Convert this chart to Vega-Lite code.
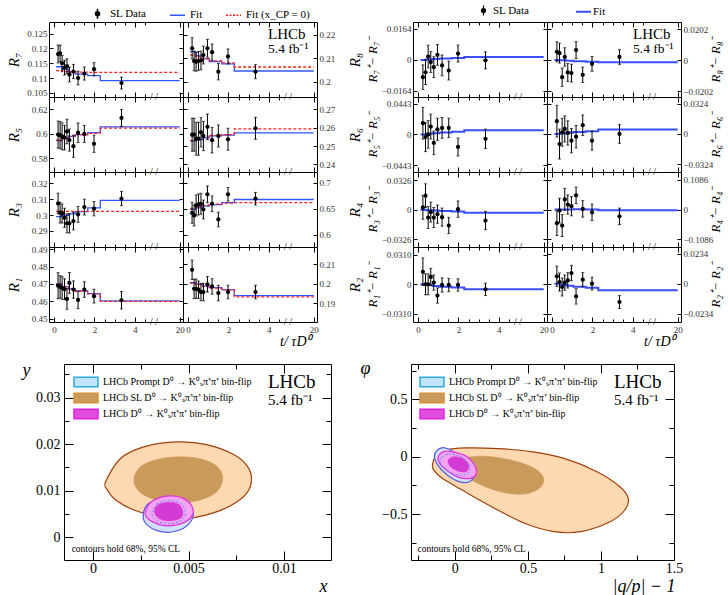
{
"$schema":"https://vega.github.io/schema/vega-lite/v6.json",
"padding":{"left":5,"top":5,"right":5,"bottom":5},
"background":"white",
"config":{
 "view":{"stroke":"black","strokeWidth":1},
 "font":"Liberation Serif",
 "axis":{"domain":false,"grid":false,"labelFont":"Liberation Serif","titleFont":"Liberation Serif","labelColor":"#333","labelFontSize":9,"tickColor":"black","tickSize":-4,"labelPadding":6,"labelFlush":false,"labelOverlap":false,"titleFontWeight":"normal","titleColor":"black"},
 "legend":{"labelFont":"Liberation Serif","labelColor":"black","padding":0}
},
"datasets":{
"ann":[
{"p":"L8","k":"big","t":3.96,"v":0.2181,"s":"LHCb"},{"p":"L8","k":"mid","t":3.96,"v":0.2122,"s":"5.4 fb⁻¹"},
{"p":"A8","k":"big","t":4.01,"v":0.0137,"s":"LHCb"},{"p":"A8","k":"mid","t":4.01,"v":0.0046,"s":"5.4 fb⁻¹"},
{"p":"L7","k":"brk","t":4.95,"v":0.1036,"s":"/ /"},{"p":"L8","k":"brk","t":4.95,"v":0.1934,"s":"/ /"},{"p":"L5","k":"brk","t":4.95,"v":0.569,"s":"/ /"},{"p":"L6","k":"brk","t":4.95,"v":0.2358,"s":"/ /"},
{"p":"L3","k":"brk","t":4.95,"v":0.2799,"s":"/ /"},{"p":"L4","k":"brk","t":4.95,"v":0.577,"s":"/ /"},{"p":"L1","k":"brk","t":4.95,"v":0.4481,"s":"/ /"},{"p":"L2","k":"brk","t":4.95,"v":0.1802,"s":"/ /"},
{"p":"A7","k":"brk","t":4.95,"v":-0.0196,"s":"/ /"},{"p":"A8","k":"brk","t":4.95,"v":-0.0241,"s":"/ /"},{"p":"A5","k":"brk","t":4.95,"v":-0.0544,"s":"/ /"},{"p":"A6","k":"brk","t":4.95,"v":-0.0407,"s":"/ /"},
{"p":"A3","k":"brk","t":4.95,"v":-0.0409,"s":"/ /"},{"p":"A4","k":"brk","t":4.95,"v":-0.1363,"s":"/ /"},{"p":"A1","k":"brk","t":4.95,"v":-0.0396,"s":"/ /"},{"p":"A2","k":"brk","t":4.95,"v":-0.0299,"s":"/ /"}
],
"cann":[
{"p":"CL","k":"big","x":0.00916,"y":0.03209,"s":"LHCb"},{"p":"CL","k":"mid","x":0.00916,"y":0.02844,"s":"5.4 fb⁻¹"},{"p":"CL","k":"small","x":-0.00112,"y":-0.00311,"s":"contours hold 68%, 95% CL"},
{"p":"CR","k":"big","x":1.089,"y":0.599,"s":"LHCb"},{"p":"CR","k":"mid","x":1.089,"y":0.45,"s":"5.4 fb⁻¹"},{"p":"CR","k":"small","x":-0.256,"y":-0.829,"s":"contours hold 68%, 95% CL"}
],
"pts":[
{"p":"L7","t":0.2,"v":0.1181,"e":0.003},{"p":"L7","t":0.3,"v":0.1183,"e":0.0028},{"p":"L7","t":0.4,"v":0.115,"e":0.0026},{"p":"L7","t":0.52,"v":0.1135,"e":0.0025},{"p":"L7","t":0.64,"v":0.114,"e":0.0025},{"p":"L7","t":0.76,"v":0.1112,"e":0.0025},{"p":"L7","t":0.96,"v":0.1122,"e":0.0024},{"p":"L7","t":1.19,"v":0.11,"e":0.0023},{"p":"L7","t":1.5,"v":0.1115,"e":0.0022},{"p":"L7","t":1.98,"v":0.113,"e":0.0022},{"p":"L7","t":3.34,"v":0.1083,"e":0.002},
{"p":"L8","t":0.2,"v":0.2142,"e":0.0045},{"p":"L8","t":0.3,"v":0.2088,"e":0.0042},{"p":"L8","t":0.4,"v":0.2084,"e":0.004},{"p":"L8","t":0.52,"v":0.2088,"e":0.004},{"p":"L8","t":0.64,"v":0.209,"e":0.004},{"p":"L8","t":0.76,"v":0.2113,"e":0.0038},{"p":"L8","t":0.96,"v":0.2142,"e":0.0038},{"p":"L8","t":1.19,"v":0.2125,"e":0.0035},{"p":"L8","t":1.5,"v":0.2042,"e":0.0035},{"p":"L8","t":1.98,"v":0.2107,"e":0.0032},{"p":"L8","t":3.34,"v":0.2042,"e":0.003},
{"p":"L5","t":0.2,"v":0.5995,"e":0.011},{"p":"L5","t":0.3,"v":0.599,"e":0.011},{"p":"L5","t":0.4,"v":0.598,"e":0.011},{"p":"L5","t":0.52,"v":0.597,"e":0.01},{"p":"L5","t":0.64,"v":0.602,"e":0.01},{"p":"L5","t":0.76,"v":0.595,"e":0.009},{"p":"L5","t":0.96,"v":0.59,"e":0.009},{"p":"L5","t":1.19,"v":0.601,"e":0.008},{"p":"L5","t":1.5,"v":0.6,"e":0.007},{"p":"L5","t":1.98,"v":0.592,"e":0.007},{"p":"L5","t":3.34,"v":0.613,"e":0.007},
{"p":"L6","t":0.2,"v":0.2562,"e":0.009},{"p":"L6","t":0.3,"v":0.2562,"e":0.009},{"p":"L6","t":0.4,"v":0.254,"e":0.009},{"p":"L6","t":0.52,"v":0.254,"e":0.009},{"p":"L6","t":0.64,"v":0.2575,"e":0.008},{"p":"L6","t":0.76,"v":0.2555,"e":0.008},{"p":"L6","t":0.96,"v":0.2605,"e":0.007},{"p":"L6","t":1.19,"v":0.2532,"e":0.007},{"p":"L6","t":1.5,"v":0.2555,"e":0.006},{"p":"L6","t":1.98,"v":0.2537,"e":0.006},{"p":"L6","t":3.34,"v":0.2597,"e":0.006},
{"p":"L3","t":0.2,"v":0.3073,"e":0.0065},{"p":"L3","t":0.3,"v":0.3015,"e":0.0065},{"p":"L3","t":0.4,"v":0.301,"e":0.006},{"p":"L3","t":0.52,"v":0.2983,"e":0.006},{"p":"L3","t":0.64,"v":0.2948,"e":0.006},{"p":"L3","t":0.76,"v":0.2948,"e":0.006},{"p":"L3","t":0.96,"v":0.2962,"e":0.0055},{"p":"L3","t":1.19,"v":0.3004,"e":0.005},{"p":"L3","t":1.5,"v":0.305,"e":0.005},{"p":"L3","t":1.98,"v":0.304,"e":0.0045},{"p":"L3","t":3.34,"v":0.3104,"e":0.0045},
{"p":"L4","t":0.2,"v":0.6424,"e":0.02},{"p":"L4","t":0.3,"v":0.6373,"e":0.02},{"p":"L4","t":0.4,"v":0.6564,"e":0.02},{"p":"L4","t":0.52,"v":0.6583,"e":0.02},{"p":"L4","t":0.64,"v":0.6596,"e":0.02},{"p":"L4","t":0.76,"v":0.6487,"e":0.018},{"p":"L4","t":0.96,"v":0.6777,"e":0.016},{"p":"L4","t":1.19,"v":0.6596,"e":0.015},{"p":"L4","t":1.5,"v":0.6296,"e":0.014},{"p":"L4","t":1.98,"v":0.6777,"e":0.013},{"p":"L4","t":3.34,"v":0.6694,"e":0.012},
{"p":"L1","t":0.2,"v":0.469,"e":0.0075},{"p":"L1","t":0.3,"v":0.4683,"e":0.0065},{"p":"L1","t":0.4,"v":0.4677,"e":0.0065},{"p":"L1","t":0.52,"v":0.467,"e":0.006},{"p":"L1","t":0.64,"v":0.4614,"e":0.006},{"p":"L1","t":0.76,"v":0.4706,"e":0.006},{"p":"L1","t":0.96,"v":0.4668,"e":0.005},{"p":"L1","t":1.19,"v":0.4608,"e":0.005},{"p":"L1","t":1.5,"v":0.4668,"e":0.0045},{"p":"L1","t":1.98,"v":0.463,"e":0.004},{"p":"L1","t":3.34,"v":0.4606,"e":0.005},
{"p":"L2","t":0.2,"v":0.2072,"e":0.005},{"p":"L2","t":0.3,"v":0.1974,"e":0.005},{"p":"L2","t":0.4,"v":0.1974,"e":0.005},{"p":"L2","t":0.52,"v":0.1969,"e":0.0045},{"p":"L2","t":0.64,"v":0.1957,"e":0.0045},{"p":"L2","t":0.76,"v":0.1957,"e":0.0045},{"p":"L2","t":0.96,"v":0.1997,"e":0.004},{"p":"L2","t":1.19,"v":0.1986,"e":0.004},{"p":"L2","t":1.5,"v":0.1952,"e":0.004},{"p":"L2","t":1.98,"v":0.1957,"e":0.0035},{"p":"L2","t":3.34,"v":0.1957,"e":0.0035},
{"p":"A7","t":0.24,"v":-0.0091,"e":0.0065},{"p":"A7","t":0.37,"v":-0.0065,"e":0.0065},{"p":"A7","t":0.5,"v":0.0018,"e":0.006},{"p":"A7","t":0.63,"v":-0.0011,"e":0.0055},{"p":"A7","t":0.78,"v":-0.0038,"e":0.0055},{"p":"A7","t":0.96,"v":0.0027,"e":0.0055},{"p":"A7","t":1.19,"v":-0.0029,"e":0.0055},{"p":"A7","t":1.52,"v":-0.0056,"e":0.005},{"p":"A7","t":1.98,"v":0.0034,"e":0.0045},{"p":"A7","t":3.34,"v":-0.0002,"e":0.0045},
{"p":"A8","t":0.24,"v":0.0054,"e":0.0065},{"p":"A8","t":0.37,"v":0.0045,"e":0.0065},{"p":"A8","t":0.5,"v":-0.0112,"e":0.006},{"p":"A8","t":0.63,"v":0.002,"e":0.006},{"p":"A8","t":0.78,"v":-0.0081,"e":0.0058},{"p":"A8","t":0.96,"v":-0.0085,"e":0.0058},{"p":"A8","t":1.19,"v":0.0065,"e":0.0055},{"p":"A8","t":1.52,"v":-0.0096,"e":0.005},{"p":"A8","t":1.98,"v":-0.0025,"e":0.0048},{"p":"A8","t":3.34,"v":0.002,"e":0.0048},
{"p":"A5","t":0.24,"v":0.0162,"e":0.023},{"p":"A5","t":0.37,"v":-0.0039,"e":0.021},{"p":"A5","t":0.5,"v":0,"e":0.02},{"p":"A5","t":0.63,"v":0.0113,"e":0.018},{"p":"A5","t":0.78,"v":-0.0123,"e":0.017},{"p":"A5","t":0.96,"v":0.0074,"e":0.016},{"p":"A5","t":1.19,"v":0.0094,"e":0.015},{"p":"A5","t":1.52,"v":0.0094,"e":0.014},{"p":"A5","t":1.98,"v":-0.0182,"e":0.013},{"p":"A5","t":3.34,"v":-0.0064,"e":0.014},
{"p":"A6","t":0.24,"v":0.0137,"e":0.017},{"p":"A6","t":0.37,"v":-0.0108,"e":0.016},{"p":"A6","t":0.5,"v":0.0018,"e":0.015},{"p":"A6","t":0.63,"v":0.0054,"e":0.014},{"p":"A6","t":0.78,"v":0.0011,"e":0.013},{"p":"A6","t":0.96,"v":-0.0072,"e":0.013},{"p":"A6","t":1.19,"v":-0.0029,"e":0.012},{"p":"A6","t":1.52,"v":0.0094,"e":0.011},{"p":"A6","t":1.98,"v":-0.0072,"e":0.01},{"p":"A6","t":3.34,"v":0,"e":0.01},
{"p":"A3","t":0.24,"v":0.0026,"e":0.013},{"p":"A3","t":0.37,"v":0.0155,"e":0.013},{"p":"A3","t":0.5,"v":-0.0085,"e":0.012},{"p":"A3","t":0.63,"v":-0.0026,"e":0.011},{"p":"A3","t":0.78,"v":-0.0085,"e":0.011},{"p":"A3","t":0.96,"v":-0.0048,"e":0.01},{"p":"A3","t":1.19,"v":-0.0081,"e":0.01},{"p":"A3","t":1.52,"v":-0.0173,"e":0.009},{"p":"A3","t":1.98,"v":0.0007,"e":0.009},{"p":"A3","t":3.34,"v":-0.0118,"e":0.01},
{"p":"A4","t":0.24,"v":-0.0494,"e":0.045},{"p":"A4","t":0.37,"v":-0.0037,"e":0.045},{"p":"A4","t":0.5,"v":-0.058,"e":0.04},{"p":"A4","t":0.63,"v":0.037,"e":0.04},{"p":"A4","t":0.78,"v":0.0185,"e":0.035},{"p":"A4","t":0.96,"v":0.0123,"e":0.035},{"p":"A4","t":1.19,"v":0.0518,"e":0.03},{"p":"A4","t":1.52,"v":0.0025,"e":0.03},{"p":"A4","t":1.98,"v":-0.0099,"e":0.03},{"p":"A4","t":3.34,"v":-0.0247,"e":0.03},
{"p":"A1","t":0.24,"v":0.0132,"e":0.0145},{"p":"A1","t":0.37,"v":0,"e":0.011},{"p":"A1","t":0.5,"v":0,"e":0.011},{"p":"A1","t":0.63,"v":0.0078,"e":0.009},{"p":"A1","t":0.78,"v":0.0018,"e":0.008},{"p":"A1","t":0.96,"v":-0.0118,"e":0.008},{"p":"A1","t":1.19,"v":-0.0007,"e":0.0075},{"p":"A1","t":1.52,"v":-0.0007,"e":0.007},{"p":"A1","t":1.98,"v":-0.0007,"e":0.0065},{"p":"A1","t":3.34,"v":-0.0053,"e":0.0065},
{"p":"A2","t":0.24,"v":0.0057,"e":0.008},{"p":"A2","t":0.37,"v":0.0013,"e":0.007},{"p":"A2","t":0.5,"v":-0.0026,"e":0.007},{"p":"A2","t":0.63,"v":0.0008,"e":0.006},{"p":"A2","t":0.78,"v":0.0026,"e":0.006},{"p":"A2","t":0.96,"v":0.0083,"e":0.006},{"p":"A2","t":1.19,"v":-0.0099,"e":0.006},{"p":"A2","t":1.52,"v":0.0031,"e":0.0055},{"p":"A2","t":1.98,"v":0,"e":0.005},{"p":"A2","t":3.34,"v":-0.0143,"e":0.005}
],
"fit":[
{"p":"L7","k":"Fit","t":0.1,"v":0.1138},{"p":"L7","k":"Fit","t":0.38,"v":0.113},{"p":"L7","k":"Fit","t":0.72,"v":0.1121},{"p":"L7","k":"Fit","t":1.05,"v":0.1113},{"p":"L7","k":"Fit","t":1.67,"v":0.1108},{"p":"L7","k":"Fit","t":2.29,"v":0.1091},{"p":"L7","k":"Fit","t":20,"v":0.1091},
{"p":"L7","k":"Fit (x_CP = 0)","t":0.1,"v":0.1125},{"p":"L7","k":"Fit (x_CP = 0)","t":0.38,"v":0.1122},{"p":"L7","k":"Fit (x_CP = 0)","t":0.72,"v":0.1121},{"p":"L7","k":"Fit (x_CP = 0)","t":1.05,"v":0.112},{"p":"L7","k":"Fit (x_CP = 0)","t":1.67,"v":0.1119},{"p":"L7","k":"Fit (x_CP = 0)","t":2.29,"v":0.1119},{"p":"L7","k":"Fit (x_CP = 0)","t":20,"v":0.1119},
{"p":"L8","k":"Fit","t":0.1,"v":0.2128},{"p":"L8","k":"Fit","t":0.38,"v":0.211},{"p":"L8","k":"Fit","t":0.72,"v":0.2098},{"p":"L8","k":"Fit","t":1.05,"v":0.2085},{"p":"L8","k":"Fit","t":1.67,"v":0.2075},{"p":"L8","k":"Fit","t":2.29,"v":0.2045},{"p":"L8","k":"Fit","t":20,"v":0.2045},
{"p":"L8","k":"Fit (x_CP = 0)","t":0.1,"v":0.2113},{"p":"L8","k":"Fit (x_CP = 0)","t":0.38,"v":0.2105},{"p":"L8","k":"Fit (x_CP = 0)","t":0.72,"v":0.2097},{"p":"L8","k":"Fit (x_CP = 0)","t":1.05,"v":0.2088},{"p":"L8","k":"Fit (x_CP = 0)","t":1.67,"v":0.208},{"p":"L8","k":"Fit (x_CP = 0)","t":2.29,"v":0.2062},{"p":"L8","k":"Fit (x_CP = 0)","t":20,"v":0.2062},
{"p":"L5","k":"Fit","t":0.1,"v":0.5945},{"p":"L5","k":"Fit","t":0.38,"v":0.5965},{"p":"L5","k":"Fit","t":0.72,"v":0.598},{"p":"L5","k":"Fit","t":1.05,"v":0.5995},{"p":"L5","k":"Fit","t":1.67,"v":0.601},{"p":"L5","k":"Fit","t":2.29,"v":0.6058},{"p":"L5","k":"Fit","t":20,"v":0.6058},
{"p":"L5","k":"Fit (x_CP = 0)","t":0.1,"v":0.595},{"p":"L5","k":"Fit (x_CP = 0)","t":0.38,"v":0.5968},{"p":"L5","k":"Fit (x_CP = 0)","t":0.72,"v":0.5982},{"p":"L5","k":"Fit (x_CP = 0)","t":1.05,"v":0.5995},{"p":"L5","k":"Fit (x_CP = 0)","t":1.67,"v":0.6005},{"p":"L5","k":"Fit (x_CP = 0)","t":2.29,"v":0.6048},{"p":"L5","k":"Fit (x_CP = 0)","t":20,"v":0.6048},
{"p":"L6","k":"Fit","t":0.1,"v":0.2528},{"p":"L6","k":"Fit","t":0.38,"v":0.2535},{"p":"L6","k":"Fit","t":0.72,"v":0.2545},{"p":"L6","k":"Fit","t":1.05,"v":0.2555},{"p":"L6","k":"Fit","t":1.67,"v":0.256},{"p":"L6","k":"Fit","t":2.29,"v":0.2572},{"p":"L6","k":"Fit","t":20,"v":0.2572},
{"p":"L6","k":"Fit (x_CP = 0)","t":0.1,"v":0.253},{"p":"L6","k":"Fit (x_CP = 0)","t":0.38,"v":0.2538},{"p":"L6","k":"Fit (x_CP = 0)","t":0.72,"v":0.2548},{"p":"L6","k":"Fit (x_CP = 0)","t":1.05,"v":0.2558},{"p":"L6","k":"Fit (x_CP = 0)","t":1.67,"v":0.2562},{"p":"L6","k":"Fit (x_CP = 0)","t":2.29,"v":0.2594},{"p":"L6","k":"Fit (x_CP = 0)","t":20,"v":0.2594},
{"p":"L3","k":"Fit","t":0.1,"v":0.299},{"p":"L3","k":"Fit","t":0.38,"v":0.2998},{"p":"L3","k":"Fit","t":0.72,"v":0.3008},{"p":"L3","k":"Fit","t":1.05,"v":0.3022},{"p":"L3","k":"Fit","t":1.67,"v":0.3045},{"p":"L3","k":"Fit","t":2.29,"v":0.3092},{"p":"L3","k":"Fit","t":20,"v":0.3092},
{"p":"L3","k":"Fit (x_CP = 0)","t":0.1,"v":0.3023},{"p":"L3","k":"Fit (x_CP = 0)","t":0.38,"v":0.3023},{"p":"L3","k":"Fit (x_CP = 0)","t":0.72,"v":0.3023},{"p":"L3","k":"Fit (x_CP = 0)","t":1.05,"v":0.3023},{"p":"L3","k":"Fit (x_CP = 0)","t":1.67,"v":0.3023},{"p":"L3","k":"Fit (x_CP = 0)","t":2.29,"v":0.3023},{"p":"L3","k":"Fit (x_CP = 0)","t":20,"v":0.3023},
{"p":"L4","k":"Fit","t":0.1,"v":0.649},{"p":"L4","k":"Fit","t":0.38,"v":0.652},{"p":"L4","k":"Fit","t":0.72,"v":0.655},{"p":"L4","k":"Fit","t":1.05,"v":0.658},{"p":"L4","k":"Fit","t":1.67,"v":0.662},{"p":"L4","k":"Fit","t":2.29,"v":0.6678},{"p":"L4","k":"Fit","t":20,"v":0.6678},
{"p":"L4","k":"Fit (x_CP = 0)","t":0.1,"v":0.651},{"p":"L4","k":"Fit (x_CP = 0)","t":0.38,"v":0.654},{"p":"L4","k":"Fit (x_CP = 0)","t":0.72,"v":0.6565},{"p":"L4","k":"Fit (x_CP = 0)","t":1.05,"v":0.659},{"p":"L4","k":"Fit (x_CP = 0)","t":1.67,"v":0.661},{"p":"L4","k":"Fit (x_CP = 0)","t":2.29,"v":0.662},{"p":"L4","k":"Fit (x_CP = 0)","t":20,"v":0.662},
{"p":"L1","k":"Fit","t":0.1,"v":0.47},{"p":"L1","k":"Fit","t":0.38,"v":0.4685},{"p":"L1","k":"Fit","t":0.72,"v":0.4672},{"p":"L1","k":"Fit","t":1.05,"v":0.466},{"p":"L1","k":"Fit","t":1.67,"v":0.4645},{"p":"L1","k":"Fit","t":2.29,"v":0.4603},{"p":"L1","k":"Fit","t":20,"v":0.4603},
{"p":"L1","k":"Fit (x_CP = 0)","t":0.1,"v":0.4698},{"p":"L1","k":"Fit (x_CP = 0)","t":0.38,"v":0.4683},{"p":"L1","k":"Fit (x_CP = 0)","t":0.72,"v":0.467},{"p":"L1","k":"Fit (x_CP = 0)","t":1.05,"v":0.4658},{"p":"L1","k":"Fit (x_CP = 0)","t":1.67,"v":0.4643},{"p":"L1","k":"Fit (x_CP = 0)","t":2.29,"v":0.46},{"p":"L1","k":"Fit (x_CP = 0)","t":20,"v":0.46},
{"p":"L2","k":"Fit","t":0.1,"v":0.2005},{"p":"L2","k":"Fit","t":0.38,"v":0.1998},{"p":"L2","k":"Fit","t":0.72,"v":0.1988},{"p":"L2","k":"Fit","t":1.05,"v":0.198},{"p":"L2","k":"Fit","t":1.67,"v":0.197},{"p":"L2","k":"Fit","t":2.29,"v":0.1938},{"p":"L2","k":"Fit","t":20,"v":0.1938},
{"p":"L2","k":"Fit (x_CP = 0)","t":0.1,"v":0.2003},{"p":"L2","k":"Fit (x_CP = 0)","t":0.38,"v":0.1995},{"p":"L2","k":"Fit (x_CP = 0)","t":0.72,"v":0.1985},{"p":"L2","k":"Fit (x_CP = 0)","t":1.05,"v":0.1977},{"p":"L2","k":"Fit (x_CP = 0)","t":1.67,"v":0.1968},{"p":"L2","k":"Fit (x_CP = 0)","t":2.29,"v":0.1932},{"p":"L2","k":"Fit (x_CP = 0)","t":20,"v":0.1932},
{"p":"A7","k":"Fit","t":0.12,"v":0},{"p":"A7","k":"Fit","t":0.38,"v":0.0002},{"p":"A7","k":"Fit","t":0.72,"v":0.0005},{"p":"A7","k":"Fit","t":1.05,"v":0.0008},{"p":"A7","k":"Fit","t":1.67,"v":0.0011},{"p":"A7","k":"Fit","t":2.29,"v":0.0016},{"p":"A7","k":"Fit","t":20,"v":0.0016},
{"p":"A8","k":"Fit","t":0.12,"v":0},{"p":"A8","k":"Fit","t":0.38,"v":-0.0002},{"p":"A8","k":"Fit","t":0.72,"v":-0.0005},{"p":"A8","k":"Fit","t":1.05,"v":-0.0008},{"p":"A8","k":"Fit","t":1.67,"v":-0.0011},{"p":"A8","k":"Fit","t":2.29,"v":-0.0014},{"p":"A8","k":"Fit","t":20,"v":-0.0014},
{"p":"A5","k":"Fit","t":0.12,"v":0},{"p":"A5","k":"Fit","t":0.38,"v":0.0008},{"p":"A5","k":"Fit","t":0.72,"v":0.0018},{"p":"A5","k":"Fit","t":1.05,"v":0.0028},{"p":"A5","k":"Fit","t":1.67,"v":0.0038},{"p":"A5","k":"Fit","t":2.29,"v":0.0059},{"p":"A5","k":"Fit","t":20,"v":0.0059},
{"p":"A6","k":"Fit","t":0.12,"v":0},{"p":"A6","k":"Fit","t":0.38,"v":0.0006},{"p":"A6","k":"Fit","t":0.72,"v":0.0013},{"p":"A6","k":"Fit","t":1.05,"v":0.002},{"p":"A6","k":"Fit","t":1.67,"v":0.0028},{"p":"A6","k":"Fit","t":2.29,"v":0.0047},{"p":"A6","k":"Fit","t":20,"v":0.0047},
{"p":"A3","k":"Fit","t":0.12,"v":0},{"p":"A3","k":"Fit","t":0.38,"v":-0.0004},{"p":"A3","k":"Fit","t":0.72,"v":-0.0009},{"p":"A3","k":"Fit","t":1.05,"v":-0.0014},{"p":"A3","k":"Fit","t":1.67,"v":-0.0019},{"p":"A3","k":"Fit","t":2.29,"v":-0.0033},{"p":"A3","k":"Fit","t":20,"v":-0.0033},
{"p":"A4","k":"Fit","t":0.12,"v":0},{"p":"A4","k":"Fit","t":0.38,"v":0.0003},{"p":"A4","k":"Fit","t":0.72,"v":0.0006},{"p":"A4","k":"Fit","t":1.05,"v":0.0008},{"p":"A4","k":"Fit","t":1.67,"v":0.0005},{"p":"A4","k":"Fit","t":2.29,"v":-0.002},{"p":"A4","k":"Fit","t":20,"v":-0.002},
{"p":"A1","k":"Fit","t":0.12,"v":0},{"p":"A1","k":"Fit","t":0.38,"v":-0.0008},{"p":"A1","k":"Fit","t":0.72,"v":-0.0017},{"p":"A1","k":"Fit","t":1.05,"v":-0.0025},{"p":"A1","k":"Fit","t":1.67,"v":-0.0033},{"p":"A1","k":"Fit","t":2.29,"v":-0.0053},{"p":"A1","k":"Fit","t":20,"v":-0.0053},
{"p":"A2","k":"Fit","t":0.12,"v":0},{"p":"A2","k":"Fit","t":0.38,"v":-0.0008},{"p":"A2","k":"Fit","t":0.72,"v":-0.0016},{"p":"A2","k":"Fit","t":1.05,"v":-0.0024},{"p":"A2","k":"Fit","t":1.67,"v":-0.0032},{"p":"A2","k":"Fit","t":2.29,"v":-0.0052},{"p":"A2","k":"Fit","t":20,"v":-0.0052}
],
"cxy":[
{"c":"S95","x":0.00066,"y":0.01193},{"c":"S95","x":0.00144,"y":0.01693},{"c":"S95","x":0.00266,"y":0.01943},{"c":"S95","x":0.00439,"y":0.0205},{"c":"S95","x":0.00595,"y":0.01993},{"c":"S95","x":0.00734,"y":0.01786},{"c":"S95","x":0.00804,"y":0.0155},{"c":"S95","x":0.0083,"y":0.01264},{"c":"S95","x":0.00804,"y":0.00943},{"c":"S95","x":0.00717,"y":0.00671},{"c":"S95","x":0.00595,"y":0.00479},{"c":"S95","x":0.00491,"y":0.00407},{"c":"S95","x":0.00352,"y":0.00443},{"c":"S95","x":0.00214,"y":0.00586},{"c":"S95","x":0.00118,"y":0.008},{"c":"S95","x":0.00075,"y":0.01014},
{"c":"S68","x":0.00214,"y":0.01229},{"c":"S68","x":0.00248,"y":0.01514},{"c":"S68","x":0.00335,"y":0.01671},{"c":"S68","x":0.00448,"y":0.01729},{"c":"S68","x":0.00561,"y":0.01686},{"c":"S68","x":0.00648,"y":0.01529},{"c":"S68","x":0.00679,"y":0.01264},{"c":"S68","x":0.00648,"y":0.00979},{"c":"S68","x":0.00561,"y":0.008},{"c":"S68","x":0.00457,"y":0.00743},{"c":"S68","x":0.00335,"y":0.008},{"c":"S68","x":0.00248,"y":0.00957},
{"c":"P95","x":0.00262,"y":0.00443},{"c":"P95","x":0.00283,"y":0.00264},{"c":"P95","x":0.00335,"y":0.00143},{"c":"P95","x":0.00405,"y":0.00107},{"c":"P95","x":0.00474,"y":0.00193},{"c":"P95","x":0.00517,"y":0.00371},{"c":"P95","x":0.00523,"y":0.0055},{"c":"P95","x":0.00491,"y":0.00729},{"c":"P95","x":0.00422,"y":0.00821},{"c":"P95","x":0.00344,"y":0.00814},{"c":"P95","x":0.00283,"y":0.00693},
{"c":"P68","x":0.00309,"y":0.00514},{"c":"P68","x":0.00335,"y":0.00714},{"c":"P68","x":0.00396,"y":0.00786},{"c":"P68","x":0.00457,"y":0.00729},{"c":"P68","x":0.00483,"y":0.0055},{"c":"P68","x":0.00465,"y":0.00371},{"c":"P68","x":0.00396,"y":0.00286},{"c":"P68","x":0.00332,"y":0.00357},
{"c":"C95","x":0.00274,"y":0.0055},{"c":"C95","x":0.003,"y":0.00743},{"c":"C95","x":0.00352,"y":0.00857},{"c":"C95","x":0.00422,"y":0.00886},{"c":"C95","x":0.00483,"y":0.00814},{"c":"C95","x":0.00517,"y":0.00671},{"c":"C95","x":0.00523,"y":0.005},{"c":"C95","x":0.00495,"y":0.00357},{"c":"C95","x":0.00439,"y":0.00264},{"c":"C95","x":0.0037,"y":0.0025},{"c":"C95","x":0.00309,"y":0.00336},{"c":"C95","x":0.00278,"y":0.00443},
{"c":"C68","x":0.00321,"y":0.0055},{"c":"C68","x":0.00339,"y":0.00693},{"c":"C68","x":0.00396,"y":0.0075},{"c":"C68","x":0.00448,"y":0.00707},{"c":"C68","x":0.0047,"y":0.0055},{"c":"C68","x":0.00457,"y":0.00407},{"c":"C68","x":0.00396,"y":0.0035},{"c":"C68","x":0.00344,"y":0.00407}
],
"cqp":[
{"c":"S95","x":-0.153,"y":-0.073},{"c":"S95","x":-0.126,"y":0.015},{"c":"S95","x":-0.063,"y":0.058},{"c":"S95","x":0.072,"y":0.076},{"c":"S95","x":0.297,"y":0.07},{"c":"S95","x":0.522,"y":0.044},{"c":"S95","x":0.748,"y":-0.015},{"c":"S95","x":0.973,"y":-0.131},{"c":"S95","x":1.13,"y":-0.262},{"c":"S95","x":1.187,"y":-0.363},{"c":"S95","x":1.164,"y":-0.465},{"c":"S95","x":1.063,"y":-0.567},{"c":"S95","x":0.86,"y":-0.654},{"c":"S95","x":0.68,"y":-0.654},{"c":"S95","x":0.477,"y":-0.581},{"c":"S95","x":0.252,"y":-0.436},{"c":"S95","x":0.05,"y":-0.291},{"c":"S95","x":-0.086,"y":-0.189},{"c":"S95","x":-0.142,"y":-0.122},
{"c":"S68","x":0.038,"y":-0.029},{"c":"S68","x":0.117,"y":0},{"c":"S68","x":0.252,"y":0},{"c":"S68","x":0.41,"y":-0.038},{"c":"S68","x":0.545,"y":-0.102},{"c":"S68","x":0.608,"y":-0.189},{"c":"S68","x":0.579,"y":-0.276},{"c":"S68","x":0.477,"y":-0.326},{"c":"S68","x":0.342,"y":-0.314},{"c":"S68","x":0.207,"y":-0.262},{"c":"S68","x":0.095,"y":-0.189},{"c":"S68","x":0.038,"y":-0.116},
{"c":"P95","x":-0.14,"y":0.006},{"c":"P95","x":-0.119,"y":0.058},{"c":"P95","x":-0.081,"y":0.078},{"c":"P95","x":-0.041,"y":0.064},{"c":"P95","x":0.027,"y":0.015},{"c":"P95","x":0.106,"y":-0.058},{"c":"P95","x":0.135,"y":-0.151},{"c":"P95","x":0.099,"y":-0.218},{"c":"P95","x":0.027,"y":-0.218},{"c":"P95","x":-0.052,"y":-0.16},{"c":"P95","x":-0.113,"y":-0.081},
{"c":"P68","x":-0.097,"y":-0.015},{"c":"P68","x":-0.041,"y":0.023},{"c":"P68","x":0.038,"y":0},{"c":"P68","x":0.095,"y":-0.058},{"c":"P68","x":0.099,"y":-0.131},{"c":"P68","x":0.038,"y":-0.16},{"c":"P68","x":-0.041,"y":-0.131},{"c":"P68","x":-0.09,"y":-0.073},
{"c":"C95","x":-0.113,"y":0},{"c":"C95","x":-0.074,"y":0.044},{"c":"C95","x":0.005,"y":0.038},{"c":"C95","x":0.083,"y":0},{"c":"C95","x":0.135,"y":-0.073},{"c":"C95","x":0.146,"y":-0.151},{"c":"C95","x":0.106,"y":-0.189},{"c":"C95","x":0.027,"y":-0.18},{"c":"C95","x":-0.052,"y":-0.122},{"c":"C95","x":-0.104,"y":-0.058},
{"c":"C68","x":-0.045,"y":-0.029},{"c":"C68","x":-0.007,"y":0},{"c":"C68","x":0.061,"y":-0.02},{"c":"C68","x":0.095,"y":-0.081},{"c":"C68","x":0.077,"y":-0.131},{"c":"C68","x":0.016,"y":-0.122},{"c":"C68","x":-0.034,"y":-0.081}
]
},
"vconcat":[
{"hconcat":[
 {"concat":[
   {"width":134,"height":75,"resolve":{"axis":{"x":"independent","y":"independent"}},
    "encoding":{"x":{"field":"t","type":"quantitative","scale":{"domain":[-0.25,5,22],"range":[0,106,134],"nice":false,"zero":false},"axis":null},
     "y":{"field":"v","type":"quantitative","scale":{"domain":[0.1036,0.1289],"nice":false,"zero":false},"axis":null}},
    "layer":[
     {"data":{"name":"fit"},"transform":[{"filter":"datum.p=='L7'"}],"mark":{"type":"line","interpolate":"step-after","strokeWidth":1.3},
      "encoding":{"x":{"field":"t","type":"quantitative","axis":{"values":[0,0.5,1,1.5,2,2.5,3,3.5,4,4.5,20],"labels":false,"tickSize":{"condition":{"test":"datum.value%2==0","value":-5},"value":-3},"title":null}},
       "y":{"field":"v","type":"quantitative","axis":{"orient":"left","values":[0.105,0.11,0.115,0.12,0.125],"format":"~g","title":"R₇","titleFontStyle":"italic","titleFontSize":15,"titleAngle":270,"titleX":-36,"titleY":37.5,"titleAlign":"center","titleBaseline":"middle"}},
       "color":{"field":"k","type":"nominal","scale":{"domain":["SL Data","Fit","Fit (x_CP = 0)"],"range":["black","#3355ff","#ff2020"]},
        "legend":{"orient":"none","legendX":40,"legendY":-17,"direction":"horizontal","title":null,"labelFontSize":11,"symbolSize":225,"columnPadding":20,"labelOffset":4,
         "encode":{"symbols":{"update":{"shape":{"signal":"datum.value=='SL Data' ? 'M0,-0.67V0.67M-0.27,0A0.27,0.27 0 1,0 0.27,0A0.27,0.27 0 1,0 -0.27,0Z' : 'stroke'"},"strokeDash":{"signal":"datum.value=='Fit (x_CP = 0)' ? [2,1.5] : []"},"stroke":{"signal":"datum.value=='SL Data' ? 'black' : datum.value=='Fit' ? '#3355ff' : '#ff2020'"},"fill":{"signal":"datum.value=='SL Data' ? 'black' : 'transparent'"},"strokeWidth":{"value":1.5}}}}}},
       "strokeDash":{"field":"k","type":"nominal","scale":{"domain":["Fit","Fit (x_CP = 0)"],"range":[[1,0],[3,2]]},"legend":null}}},
     {"data":{"name":"pts"},"transform":[{"filter":"datum.p=='L7'"}],"mark":{"type":"errorbar","ticks":{"size":3},"color":"black"},"encoding":{"yError":{"field":"e"}}},
     {"data":{"name":"pts"},"transform":[{"filter":"datum.p=='L7'"}],"mark":{"type":"point","filled":true,"size":18,"color":"black","opacity":1},
      "encoding":{"x":{"field":"t","type":"quantitative","axis":{"orient":"top","values":[0,0.5,1,1.5,2,2.5,3,3.5,4,4.5,20],"labels":false,"tickSize":{"condition":{"test":"datum.value%2==0","value":-5},"value":-3},"title":null}},
       "y":{"field":"v","type":"quantitative","axis":{"orient":"right","values":[0.105,0.11,0.115,0.12,0.125],"labels":false,"title":null}}}},
     {"data":{"name":"ann"},"transform":[{"filter":"datum.p=='L7' && datum.k=='brk'"}],"mark":{"type":"text","align":"center","baseline":"middle","fontSize":10,"font":"Liberation Serif","color":"black"},"encoding":{"text":{"field":"s","type":"nominal"}}}
    ]},
   {"width":134,"height":75,"resolve":{"axis":{"x":"independent","y":"independent"}},
    "encoding":{"x":{"field":"t","type":"quantitative","scale":{"domain":[-0.25,5,22],"range":[0,106,134],"nice":false,"zero":false},"axis":null},
     "y":{"field":"v","type":"quantitative","scale":{"domain":[0.1934,0.2254],"nice":false,"zero":false},"axis":null}},
    "layer":[
     {"data":{"name":"fit"},"transform":[{"filter":"datum.p=='L8'"}],"mark":{"type":"line","interpolate":"step-after","strokeWidth":1.3},
      "encoding":{"x":{"field":"t","type":"quantitative","axis":{"values":[0,0.5,1,1.5,2,2.5,3,3.5,4,4.5,20],"labels":false,"tickSize":{"condition":{"test":"datum.value%2==0","value":-5},"value":-3},"title":null}},
       "y":{"field":"v","type":"quantitative","axis":{"orient":"right","values":[0.2,0.21,0.22],"format":"~g","title":"R₈","titleFontStyle":"italic","titleFontSize":15,"titleAngle":270,"titleX":37,"titleY":37.5,"titleAlign":"center","titleBaseline":"middle"}},
       "color":{"field":"k","type":"nominal","scale":{"domain":["SL Data","Fit","Fit (x_CP = 0)"],"range":["black","#3355ff","#ff2020"]}},
       "strokeDash":{"field":"k","type":"nominal","scale":{"domain":["Fit","Fit (x_CP = 0)"],"range":[[1,0],[3,2]]},"legend":null}}},
     {"data":{"name":"pts"},"transform":[{"filter":"datum.p=='L8'"}],"mark":{"type":"errorbar","ticks":{"size":3},"color":"black"},"encoding":{"yError":{"field":"e"}}},
     {"data":{"name":"pts"},"transform":[{"filter":"datum.p=='L8'"}],"mark":{"type":"point","filled":true,"size":18,"color":"black","opacity":1},
      "encoding":{"x":{"field":"t","type":"quantitative","axis":{"orient":"top","values":[0,0.5,1,1.5,2,2.5,3,3.5,4,4.5,20],"labels":false,"tickSize":{"condition":{"test":"datum.value%2==0","value":-5},"value":-3},"title":null}},
       "y":{"field":"v","type":"quantitative","axis":{"orient":"left","values":[0.2,0.21,0.22],"labels":false,"title":null}}}},
     {"data":{"name":"ann"},"transform":[{"filter":"datum.p=='L8' && datum.k=='brk'"}],"mark":{"type":"text","align":"center","baseline":"middle","fontSize":10,"font":"Liberation Serif","color":"black"},"encoding":{"text":{"field":"s","type":"nominal"}}},
     {"data":{"name":"ann"},"transform":[{"filter":"datum.p=='L8' && datum.k=='big'"}],"mark":{"type":"text","align":"left","baseline":"alphabetic","fontSize":15,"font":"Liberation Serif","color":"black"},"encoding":{"text":{"field":"s","type":"nominal"}}},
     {"data":{"name":"ann"},"transform":[{"filter":"datum.p=='L8' && datum.k=='mid'"}],"mark":{"type":"text","align":"left","baseline":"alphabetic","fontSize":13.5,"font":"Liberation Serif","color":"black"},"encoding":{"text":{"field":"s","type":"nominal"}}}
    ]},
   {"width":134,"height":75,"resolve":{"axis":{"x":"independent","y":"independent"}},
    "encoding":{"x":{"field":"t","type":"quantitative","scale":{"domain":[-0.25,5,22],"range":[0,106,134],"nice":false,"zero":false},"axis":null},
     "y":{"field":"v","type":"quantitative","scale":{"domain":[0.569,0.6301],"nice":false,"zero":false},"axis":null}},
    "layer":[
     {"data":{"name":"fit"},"transform":[{"filter":"datum.p=='L5'"}],"mark":{"type":"line","interpolate":"step-after","strokeWidth":1.3},
      "encoding":{"x":{"field":"t","type":"quantitative","axis":{"values":[0,0.5,1,1.5,2,2.5,3,3.5,4,4.5,20],"labels":false,"tickSize":{"condition":{"test":"datum.value%2==0","value":-5},"value":-3},"title":null}},
       "y":{"field":"v","type":"quantitative","axis":{"orient":"left","values":[0.58,0.6,0.62],"format":"~g","title":"R₅","titleFontStyle":"italic","titleFontSize":15,"titleAngle":270,"titleX":-36,"titleY":37.5,"titleAlign":"center","titleBaseline":"middle"}},
       "color":{"field":"k","type":"nominal","scale":{"domain":["SL Data","Fit","Fit (x_CP = 0)"],"range":["black","#3355ff","#ff2020"]}},
       "strokeDash":{"field":"k","type":"nominal","scale":{"domain":["Fit","Fit (x_CP = 0)"],"range":[[1,0],[3,2]]},"legend":null}}},
     {"data":{"name":"pts"},"transform":[{"filter":"datum.p=='L5'"}],"mark":{"type":"errorbar","ticks":{"size":3},"color":"black"},"encoding":{"yError":{"field":"e"}}},
     {"data":{"name":"pts"},"transform":[{"filter":"datum.p=='L5'"}],"mark":{"type":"point","filled":true,"size":18,"color":"black","opacity":1},
      "encoding":{"x":{"field":"t","type":"quantitative","axis":{"orient":"top","values":[0,0.5,1,1.5,2,2.5,3,3.5,4,4.5,20],"labels":false,"tickSize":{"condition":{"test":"datum.value%2==0","value":-5},"value":-3},"title":null}},
       "y":{"field":"v","type":"quantitative","axis":{"orient":"right","values":[0.58,0.6,0.62],"labels":false,"title":null}}}},
     {"data":{"name":"ann"},"transform":[{"filter":"datum.p=='L5' && datum.k=='brk'"}],"mark":{"type":"text","align":"center","baseline":"middle","fontSize":10,"font":"Liberation Serif","color":"black"},"encoding":{"text":{"field":"s","type":"nominal"}}}
    ]},
   {"width":134,"height":75,"resolve":{"axis":{"x":"independent","y":"independent"}},
    "encoding":{"x":{"field":"t","type":"quantitative","scale":{"domain":[-0.25,5,22],"range":[0,106,134],"nice":false,"zero":false},"axis":null},
     "y":{"field":"v","type":"quantitative","scale":{"domain":[0.2358,0.2768],"nice":false,"zero":false},"axis":null}},
    "layer":[
     {"data":{"name":"fit"},"transform":[{"filter":"datum.p=='L6'"}],"mark":{"type":"line","interpolate":"step-after","strokeWidth":1.3},
      "encoding":{"x":{"field":"t","type":"quantitative","axis":{"values":[0,0.5,1,1.5,2,2.5,3,3.5,4,4.5,20],"labels":false,"tickSize":{"condition":{"test":"datum.value%2==0","value":-5},"value":-3},"title":null}},
       "y":{"field":"v","type":"quantitative","axis":{"orient":"right","values":[0.24,0.25,0.26,0.27],"format":"~g","title":"R₆","titleFontStyle":"italic","titleFontSize":15,"titleAngle":270,"titleX":37,"titleY":37.5,"titleAlign":"center","titleBaseline":"middle"}},
       "color":{"field":"k","type":"nominal","scale":{"domain":["SL Data","Fit","Fit (x_CP = 0)"],"range":["black","#3355ff","#ff2020"]}},
       "strokeDash":{"field":"k","type":"nominal","scale":{"domain":["Fit","Fit (x_CP = 0)"],"range":[[1,0],[3,2]]},"legend":null}}},
     {"data":{"name":"pts"},"transform":[{"filter":"datum.p=='L6'"}],"mark":{"type":"errorbar","ticks":{"size":3},"color":"black"},"encoding":{"yError":{"field":"e"}}},
     {"data":{"name":"pts"},"transform":[{"filter":"datum.p=='L6'"}],"mark":{"type":"point","filled":true,"size":18,"color":"black","opacity":1},
      "encoding":{"x":{"field":"t","type":"quantitative","axis":{"orient":"top","values":[0,0.5,1,1.5,2,2.5,3,3.5,4,4.5,20],"labels":false,"tickSize":{"condition":{"test":"datum.value%2==0","value":-5},"value":-3},"title":null}},
       "y":{"field":"v","type":"quantitative","axis":{"orient":"left","values":[0.24,0.25,0.26,0.27],"labels":false,"title":null}}}},
     {"data":{"name":"ann"},"transform":[{"filter":"datum.p=='L6' && datum.k=='brk'"}],"mark":{"type":"text","align":"center","baseline":"middle","fontSize":10,"font":"Liberation Serif","color":"black"},"encoding":{"text":{"field":"s","type":"nominal"}}}
    ]},
   {"width":134,"height":75,"resolve":{"axis":{"x":"independent","y":"independent"}},
    "encoding":{"x":{"field":"t","type":"quantitative","scale":{"domain":[-0.25,5,22],"range":[0,106,134],"nice":false,"zero":false},"axis":null},
     "y":{"field":"v","type":"quantitative","scale":{"domain":[0.2799,0.3271],"nice":false,"zero":false},"axis":null}},
    "layer":[
     {"data":{"name":"fit"},"transform":[{"filter":"datum.p=='L3'"}],"mark":{"type":"line","interpolate":"step-after","strokeWidth":1.3},
      "encoding":{"x":{"field":"t","type":"quantitative","axis":{"values":[0,0.5,1,1.5,2,2.5,3,3.5,4,4.5,20],"labels":false,"tickSize":{"condition":{"test":"datum.value%2==0","value":-5},"value":-3},"title":null}},
       "y":{"field":"v","type":"quantitative","axis":{"orient":"left","values":[0.29,0.3,0.31,0.32],"format":"~g","title":"R₃","titleFontStyle":"italic","titleFontSize":15,"titleAngle":270,"titleX":-36,"titleY":37.5,"titleAlign":"center","titleBaseline":"middle"}},
       "color":{"field":"k","type":"nominal","scale":{"domain":["SL Data","Fit","Fit (x_CP = 0)"],"range":["black","#3355ff","#ff2020"]}},
       "strokeDash":{"field":"k","type":"nominal","scale":{"domain":["Fit","Fit (x_CP = 0)"],"range":[[1,0],[3,2]]},"legend":null}}},
     {"data":{"name":"pts"},"transform":[{"filter":"datum.p=='L3'"}],"mark":{"type":"errorbar","ticks":{"size":3},"color":"black"},"encoding":{"yError":{"field":"e"}}},
     {"data":{"name":"pts"},"transform":[{"filter":"datum.p=='L3'"}],"mark":{"type":"point","filled":true,"size":18,"color":"black","opacity":1},
      "encoding":{"x":{"field":"t","type":"quantitative","axis":{"orient":"top","values":[0,0.5,1,1.5,2,2.5,3,3.5,4,4.5,20],"labels":false,"tickSize":{"condition":{"test":"datum.value%2==0","value":-5},"value":-3},"title":null}},
       "y":{"field":"v","type":"quantitative","axis":{"orient":"right","values":[0.29,0.3,0.31,0.32],"labels":false,"title":null}}}},
     {"data":{"name":"ann"},"transform":[{"filter":"datum.p=='L3' && datum.k=='brk'"}],"mark":{"type":"text","align":"center","baseline":"middle","fontSize":10,"font":"Liberation Serif","color":"black"},"encoding":{"text":{"field":"s","type":"nominal"}}}
    ]},
   {"width":134,"height":75,"resolve":{"axis":{"x":"independent","y":"independent"}},
    "encoding":{"x":{"field":"t","type":"quantitative","scale":{"domain":[-0.25,5,22],"range":[0,106,134],"nice":false,"zero":false},"axis":null},
     "y":{"field":"v","type":"quantitative","scale":{"domain":[0.577,0.7204],"nice":false,"zero":false},"axis":null}},
    "layer":[
     {"data":{"name":"fit"},"transform":[{"filter":"datum.p=='L4'"}],"mark":{"type":"line","interpolate":"step-after","strokeWidth":1.3},
      "encoding":{"x":{"field":"t","type":"quantitative","axis":{"values":[0,0.5,1,1.5,2,2.5,3,3.5,4,4.5,20],"labels":false,"tickSize":{"condition":{"test":"datum.value%2==0","value":-5},"value":-3},"title":null}},
       "y":{"field":"v","type":"quantitative","axis":{"orient":"right","values":[0.6,0.65,0.7],"format":"~g","title":"R₄","titleFontStyle":"italic","titleFontSize":15,"titleAngle":270,"titleX":37,"titleY":37.5,"titleAlign":"center","titleBaseline":"middle"}},
       "color":{"field":"k","type":"nominal","scale":{"domain":["SL Data","Fit","Fit (x_CP = 0)"],"range":["black","#3355ff","#ff2020"]}},
       "strokeDash":{"field":"k","type":"nominal","scale":{"domain":["Fit","Fit (x_CP = 0)"],"range":[[1,0],[3,2]]},"legend":null}}},
     {"data":{"name":"pts"},"transform":[{"filter":"datum.p=='L4'"}],"mark":{"type":"errorbar","ticks":{"size":3},"color":"black"},"encoding":{"yError":{"field":"e"}}},
     {"data":{"name":"pts"},"transform":[{"filter":"datum.p=='L4'"}],"mark":{"type":"point","filled":true,"size":18,"color":"black","opacity":1},
      "encoding":{"x":{"field":"t","type":"quantitative","axis":{"orient":"top","values":[0,0.5,1,1.5,2,2.5,3,3.5,4,4.5,20],"labels":false,"tickSize":{"condition":{"test":"datum.value%2==0","value":-5},"value":-3},"title":null}},
       "y":{"field":"v","type":"quantitative","axis":{"orient":"left","values":[0.6,0.65,0.7],"labels":false,"title":null}}}},
     {"data":{"name":"ann"},"transform":[{"filter":"datum.p=='L4' && datum.k=='brk'"}],"mark":{"type":"text","align":"center","baseline":"middle","fontSize":10,"font":"Liberation Serif","color":"black"},"encoding":{"text":{"field":"s","type":"nominal"}}}
    ]},
   {"width":134,"height":75,"resolve":{"axis":{"x":"independent","y":"independent"}},
    "encoding":{"x":{"field":"t","type":"quantitative","scale":{"domain":[-0.25,5,22],"range":[0,106,134],"nice":false,"zero":false},"axis":null},
     "y":{"field":"v","type":"quantitative","scale":{"domain":[0.4481,0.4913],"nice":false,"zero":false},"axis":null}},
    "layer":[
     {"data":{"name":"fit"},"transform":[{"filter":"datum.p=='L1'"}],"mark":{"type":"line","interpolate":"step-after","strokeWidth":1.3},
      "encoding":{"x":{"field":"t","type":"quantitative","axis":{"values":[0,0.5,1,1.5,2,2.5,3,3.5,4,4.5,20],"labelExpr":"datum.value%2==0 ? datum.label : ''","labelPadding":8,"tickSize":{"condition":{"test":"datum.value%2==0","value":-5},"value":-3},"title":null}},
       "y":{"field":"v","type":"quantitative","axis":{"orient":"left","values":[0.45,0.46,0.47,0.48,0.49],"format":"~g","title":"R₁","titleFontStyle":"italic","titleFontSize":15,"titleAngle":270,"titleX":-36,"titleY":37.5,"titleAlign":"center","titleBaseline":"middle"}},
       "color":{"field":"k","type":"nominal","scale":{"domain":["SL Data","Fit","Fit (x_CP = 0)"],"range":["black","#3355ff","#ff2020"]}},
       "strokeDash":{"field":"k","type":"nominal","scale":{"domain":["Fit","Fit (x_CP = 0)"],"range":[[1,0],[3,2]]},"legend":null}}},
     {"data":{"name":"pts"},"transform":[{"filter":"datum.p=='L1'"}],"mark":{"type":"errorbar","ticks":{"size":3},"color":"black"},"encoding":{"yError":{"field":"e"}}},
     {"data":{"name":"pts"},"transform":[{"filter":"datum.p=='L1'"}],"mark":{"type":"point","filled":true,"size":18,"color":"black","opacity":1},
      "encoding":{"x":{"field":"t","type":"quantitative","axis":{"orient":"top","values":[0,0.5,1,1.5,2,2.5,3,3.5,4,4.5,20],"labels":false,"tickSize":{"condition":{"test":"datum.value%2==0","value":-5},"value":-3},"title":null}},
       "y":{"field":"v","type":"quantitative","axis":{"orient":"right","values":[0.45,0.46,0.47,0.48,0.49],"labels":false,"title":null}}}},
     {"data":{"name":"ann"},"transform":[{"filter":"datum.p=='L1' && datum.k=='brk'"}],"mark":{"type":"text","align":"center","baseline":"middle","fontSize":10,"font":"Liberation Serif","color":"black"},"encoding":{"text":{"field":"s","type":"nominal"}}}
    ]},
   {"width":134,"height":75,"resolve":{"axis":{"x":"independent","y":"independent"}},
    "encoding":{"x":{"field":"t","type":"quantitative","scale":{"domain":[-0.25,5,22],"range":[0,106,134],"nice":false,"zero":false},"axis":null},
     "y":{"field":"v","type":"quantitative","scale":{"domain":[0.1802,0.219],"nice":false,"zero":false},"axis":null}},
    "layer":[
     {"data":{"name":"fit"},"transform":[{"filter":"datum.p=='L2'"}],"mark":{"type":"line","interpolate":"step-after","strokeWidth":1.3},
      "encoding":{"x":{"field":"t","type":"quantitative","axis":{"values":[0,0.5,1,1.5,2,2.5,3,3.5,4,4.5,20],"labelExpr":"datum.value%2==0 ? datum.label : ''","labelPadding":8,"tickSize":{"condition":{"test":"datum.value%2==0","value":-5},"value":-3},"title":"t/ τD⁰","titleFontStyle":"italic","titleFontSize":14,"titleAlign":"right","titleAnchor":"end","titleX":128,"titleY":23,"titleBaseline":"alphabetic"}},
       "y":{"field":"v","type":"quantitative","axis":{"orient":"right","values":[0.19,0.2,0.21],"format":"~g","title":"R₂","titleFontStyle":"italic","titleFontSize":15,"titleAngle":270,"titleX":37,"titleY":37.5,"titleAlign":"center","titleBaseline":"middle"}},
       "color":{"field":"k","type":"nominal","scale":{"domain":["SL Data","Fit","Fit (x_CP = 0)"],"range":["black","#3355ff","#ff2020"]}},
       "strokeDash":{"field":"k","type":"nominal","scale":{"domain":["Fit","Fit (x_CP = 0)"],"range":[[1,0],[3,2]]},"legend":null}}},
     {"data":{"name":"pts"},"transform":[{"filter":"datum.p=='L2'"}],"mark":{"type":"errorbar","ticks":{"size":3},"color":"black"},"encoding":{"yError":{"field":"e"}}},
     {"data":{"name":"pts"},"transform":[{"filter":"datum.p=='L2'"}],"mark":{"type":"point","filled":true,"size":18,"color":"black","opacity":1},
      "encoding":{"x":{"field":"t","type":"quantitative","axis":{"orient":"top","values":[0,0.5,1,1.5,2,2.5,3,3.5,4,4.5,20],"labels":false,"tickSize":{"condition":{"test":"datum.value%2==0","value":-5},"value":-3},"title":null}},
       "y":{"field":"v","type":"quantitative","axis":{"orient":"left","values":[0.19,0.2,0.21],"labels":false,"title":null}}}},
     {"data":{"name":"ann"},"transform":[{"filter":"datum.p=='L2' && datum.k=='brk'"}],"mark":{"type":"text","align":"center","baseline":"middle","fontSize":10,"font":"Liberation Serif","color":"black"},"encoding":{"text":{"field":"s","type":"nominal"}}}
    ]}
 ],"columns":2,"spacing":0,"bounds":"flush"},
 {"concat":[
   {"width":134,"height":75,"resolve":{"axis":{"x":"independent","y":"independent"}},
    "encoding":{"x":{"field":"t","type":"quantitative","scale":{"domain":[-0.25,5,22],"range":[0,106,134],"nice":false,"zero":false},"axis":null},
     "y":{"field":"v","type":"quantitative","scale":{"domain":[-0.0196,0.0201],"nice":false,"zero":false},"axis":null}},
    "layer":[
     {"data":{"name":"fit"},"transform":[{"filter":"datum.p=='A7'"}],"mark":{"type":"line","interpolate":"step-after","strokeWidth":2},
      "encoding":{"x":{"field":"t","type":"quantitative","axis":{"values":[0,0.5,1,1.5,2,2.5,3,3.5,4,4.5,20],"labels":false,"tickSize":{"condition":{"test":"datum.value%2==0","value":-5},"value":-3},"title":null}},
       "y":{"field":"v","type":"quantitative","axis":{"orient":"left","values":[-0.0164,0,0.0164],"labelExpr":"datum.value==0 ? '0' : format(datum.value,'.4f')","title":"R₇⁺− R₇⁻","titleFontStyle":"italic","titleFontSize":13,"titleAngle":270,"titleX":-41,"titleY":37.5,"titleAlign":"center","titleBaseline":"middle"}},
       "color":{"field":"k","type":"nominal","scale":{"domain":["SL Data","Fit"],"range":["black","#3a4dff"]},
        "legend":{"orient":"none","legendX":65,"legendY":-17,"direction":"horizontal","title":null,"labelFontSize":11,"symbolSize":225,"columnPadding":42,"labelOffset":4,
         "encode":{"symbols":{"update":{"shape":{"signal":"datum.value=='SL Data' ? 'M0,-0.67V0.67M-0.27,0A0.27,0.27 0 1,0 0.27,0A0.27,0.27 0 1,0 -0.27,0Z' : 'stroke'"},"stroke":{"signal":"datum.value=='SL Data' ? 'black' : '#3a4dff'"},"fill":{"signal":"datum.value=='SL Data' ? 'black' : 'transparent'"},"strokeWidth":{"signal":"datum.value=='SL Data' ? 1.2 : 2"}}}}}}}},
     {"data":{"name":"pts"},"transform":[{"filter":"datum.p=='A7'"}],"mark":{"type":"errorbar","ticks":{"size":3},"color":"black"},"encoding":{"yError":{"field":"e"}}},
     {"data":{"name":"pts"},"transform":[{"filter":"datum.p=='A7'"}],"mark":{"type":"point","filled":true,"size":18,"color":"black","opacity":1},
      "encoding":{"x":{"field":"t","type":"quantitative","axis":{"orient":"top","values":[0,0.5,1,1.5,2,2.5,3,3.5,4,4.5,20],"labels":false,"tickSize":{"condition":{"test":"datum.value%2==0","value":-5},"value":-3},"title":null}},
       "y":{"field":"v","type":"quantitative","axis":{"orient":"right","values":[-0.0164,0,0.0164],"labels":false,"title":null}}}},
     {"data":{"name":"ann"},"transform":[{"filter":"datum.p=='A7' && datum.k=='brk'"}],"mark":{"type":"text","align":"center","baseline":"middle","fontSize":10,"font":"Liberation Serif","color":"black"},"encoding":{"text":{"field":"s","type":"nominal"}}}
    ]},
   {"width":134,"height":75,"resolve":{"axis":{"x":"independent","y":"independent"}},
    "encoding":{"x":{"field":"t","type":"quantitative","scale":{"domain":[-0.25,5,22],"range":[0,106,134],"nice":false,"zero":false},"axis":null},
     "y":{"field":"v","type":"quantitative","scale":{"domain":[-0.0241,0.0248],"nice":false,"zero":false},"axis":null}},
    "layer":[
     {"data":{"name":"fit"},"transform":[{"filter":"datum.p=='A8'"}],"mark":{"type":"line","interpolate":"step-after","strokeWidth":2},
      "encoding":{"x":{"field":"t","type":"quantitative","axis":{"values":[0,0.5,1,1.5,2,2.5,3,3.5,4,4.5,20],"labels":false,"tickSize":{"condition":{"test":"datum.value%2==0","value":-5},"value":-3},"title":null}},
       "y":{"field":"v","type":"quantitative","axis":{"orient":"right","values":[-0.0202,0,0.0202],"labelExpr":"datum.value==0 ? '0' : format(datum.value,'.4f')","title":"R₈⁺− R₈⁻","titleFontStyle":"italic","titleFontSize":13,"titleAngle":270,"titleX":34,"titleY":37.5,"titleAlign":"center","titleBaseline":"middle"}},
       "color":{"field":"k","type":"nominal","scale":{"domain":["SL Data","Fit"],"range":["black","#3a4dff"]}}}},
     {"data":{"name":"pts"},"transform":[{"filter":"datum.p=='A8'"}],"mark":{"type":"errorbar","ticks":{"size":3},"color":"black"},"encoding":{"yError":{"field":"e"}}},
     {"data":{"name":"pts"},"transform":[{"filter":"datum.p=='A8'"}],"mark":{"type":"point","filled":true,"size":18,"color":"black","opacity":1},
      "encoding":{"x":{"field":"t","type":"quantitative","axis":{"orient":"top","values":[0,0.5,1,1.5,2,2.5,3,3.5,4,4.5,20],"labels":false,"tickSize":{"condition":{"test":"datum.value%2==0","value":-5},"value":-3},"title":null}},
       "y":{"field":"v","type":"quantitative","axis":{"orient":"left","values":[-0.0202,0,0.0202],"labels":false,"title":null}}}},
     {"data":{"name":"ann"},"transform":[{"filter":"datum.p=='A8' && datum.k=='brk'"}],"mark":{"type":"text","align":"center","baseline":"middle","fontSize":10,"font":"Liberation Serif","color":"black"},"encoding":{"text":{"field":"s","type":"nominal"}}},
     {"data":{"name":"ann"},"transform":[{"filter":"datum.p=='A8' && datum.k=='big'"}],"mark":{"type":"text","align":"left","baseline":"alphabetic","fontSize":15,"font":"Liberation Serif","color":"black"},"encoding":{"text":{"field":"s","type":"nominal"}}},
     {"data":{"name":"ann"},"transform":[{"filter":"datum.p=='A8' && datum.k=='mid'"}],"mark":{"type":"text","align":"left","baseline":"alphabetic","fontSize":13.5,"font":"Liberation Serif","color":"black"},"encoding":{"text":{"field":"s","type":"nominal"}}}
    ]},
   {"width":134,"height":75,"resolve":{"axis":{"x":"independent","y":"independent"}},
    "encoding":{"x":{"field":"t","type":"quantitative","scale":{"domain":[-0.25,5,22],"range":[0,106,134],"nice":false,"zero":false},"axis":null},
     "y":{"field":"v","type":"quantitative","scale":{"domain":[-0.0544,0.0541],"nice":false,"zero":false},"axis":null}},
    "layer":[
     {"data":{"name":"fit"},"transform":[{"filter":"datum.p=='A5'"}],"mark":{"type":"line","interpolate":"step-after","strokeWidth":2},
      "encoding":{"x":{"field":"t","type":"quantitative","axis":{"values":[0,0.5,1,1.5,2,2.5,3,3.5,4,4.5,20],"labels":false,"tickSize":{"condition":{"test":"datum.value%2==0","value":-5},"value":-3},"title":null}},
       "y":{"field":"v","type":"quantitative","axis":{"orient":"left","values":[-0.0443,0,0.0443],"labelExpr":"datum.value==0 ? '0' : format(datum.value,'.4f')","title":"R₅⁺− R₅⁻","titleFontStyle":"italic","titleFontSize":13,"titleAngle":270,"titleX":-41,"titleY":37.5,"titleAlign":"center","titleBaseline":"middle"}},
       "color":{"field":"k","type":"nominal","scale":{"domain":["SL Data","Fit"],"range":["black","#3a4dff"]}}}},
     {"data":{"name":"pts"},"transform":[{"filter":"datum.p=='A5'"}],"mark":{"type":"errorbar","ticks":{"size":3},"color":"black"},"encoding":{"yError":{"field":"e"}}},
     {"data":{"name":"pts"},"transform":[{"filter":"datum.p=='A5'"}],"mark":{"type":"point","filled":true,"size":18,"color":"black","opacity":1},
      "encoding":{"x":{"field":"t","type":"quantitative","axis":{"orient":"top","values":[0,0.5,1,1.5,2,2.5,3,3.5,4,4.5,20],"labels":false,"tickSize":{"condition":{"test":"datum.value%2==0","value":-5},"value":-3},"title":null}},
       "y":{"field":"v","type":"quantitative","axis":{"orient":"right","values":[-0.0443,0,0.0443],"labels":false,"title":null}}}},
     {"data":{"name":"ann"},"transform":[{"filter":"datum.p=='A5' && datum.k=='brk'"}],"mark":{"type":"text","align":"center","baseline":"middle","fontSize":10,"font":"Liberation Serif","color":"black"},"encoding":{"text":{"field":"s","type":"nominal"}}}
    ]},
   {"width":134,"height":75,"resolve":{"axis":{"x":"independent","y":"independent"}},
    "encoding":{"x":{"field":"t","type":"quantitative","scale":{"domain":[-0.25,5,22],"range":[0,106,134],"nice":false,"zero":false},"axis":null},
     "y":{"field":"v","type":"quantitative","scale":{"domain":[-0.0407,0.0396],"nice":false,"zero":false},"axis":null}},
    "layer":[
     {"data":{"name":"fit"},"transform":[{"filter":"datum.p=='A6'"}],"mark":{"type":"line","interpolate":"step-after","strokeWidth":2},
      "encoding":{"x":{"field":"t","type":"quantitative","axis":{"values":[0,0.5,1,1.5,2,2.5,3,3.5,4,4.5,20],"labels":false,"tickSize":{"condition":{"test":"datum.value%2==0","value":-5},"value":-3},"title":null}},
       "y":{"field":"v","type":"quantitative","axis":{"orient":"right","values":[-0.0324,0,0.0324],"labelExpr":"datum.value==0 ? '0' : format(datum.value,'.4f')","title":"R₆⁺− R₆⁻","titleFontStyle":"italic","titleFontSize":13,"titleAngle":270,"titleX":34,"titleY":37.5,"titleAlign":"center","titleBaseline":"middle"}},
       "color":{"field":"k","type":"nominal","scale":{"domain":["SL Data","Fit"],"range":["black","#3a4dff"]}}}},
     {"data":{"name":"pts"},"transform":[{"filter":"datum.p=='A6'"}],"mark":{"type":"errorbar","ticks":{"size":3},"color":"black"},"encoding":{"yError":{"field":"e"}}},
     {"data":{"name":"pts"},"transform":[{"filter":"datum.p=='A6'"}],"mark":{"type":"point","filled":true,"size":18,"color":"black","opacity":1},
      "encoding":{"x":{"field":"t","type":"quantitative","axis":{"orient":"top","values":[0,0.5,1,1.5,2,2.5,3,3.5,4,4.5,20],"labels":false,"tickSize":{"condition":{"test":"datum.value%2==0","value":-5},"value":-3},"title":null}},
       "y":{"field":"v","type":"quantitative","axis":{"orient":"left","values":[-0.0324,0,0.0324],"labels":false,"title":null}}}},
     {"data":{"name":"ann"},"transform":[{"filter":"datum.p=='A6' && datum.k=='brk'"}],"mark":{"type":"text","align":"center","baseline":"middle","fontSize":10,"font":"Liberation Serif","color":"black"},"encoding":{"text":{"field":"s","type":"nominal"}}}
    ]},
   {"width":134,"height":75,"resolve":{"axis":{"x":"independent","y":"independent"}},
    "encoding":{"x":{"field":"t","type":"quantitative","scale":{"domain":[-0.25,5,22],"range":[0,106,134],"nice":false,"zero":false},"axis":null},
     "y":{"field":"v","type":"quantitative","scale":{"domain":[-0.0409,0.0415],"nice":false,"zero":false},"axis":null}},
    "layer":[
     {"data":{"name":"fit"},"transform":[{"filter":"datum.p=='A3'"}],"mark":{"type":"line","interpolate":"step-after","strokeWidth":2},
      "encoding":{"x":{"field":"t","type":"quantitative","axis":{"values":[0,0.5,1,1.5,2,2.5,3,3.5,4,4.5,20],"labels":false,"tickSize":{"condition":{"test":"datum.value%2==0","value":-5},"value":-3},"title":null}},
       "y":{"field":"v","type":"quantitative","axis":{"orient":"left","values":[-0.0326,0,0.0326],"labelExpr":"datum.value==0 ? '0' : format(datum.value,'.4f')","title":"R₃⁺− R₃⁻","titleFontStyle":"italic","titleFontSize":13,"titleAngle":270,"titleX":-41,"titleY":37.5,"titleAlign":"center","titleBaseline":"middle"}},
       "color":{"field":"k","type":"nominal","scale":{"domain":["SL Data","Fit"],"range":["black","#3a4dff"]}}}},
     {"data":{"name":"pts"},"transform":[{"filter":"datum.p=='A3'"}],"mark":{"type":"errorbar","ticks":{"size":3},"color":"black"},"encoding":{"yError":{"field":"e"}}},
     {"data":{"name":"pts"},"transform":[{"filter":"datum.p=='A3'"}],"mark":{"type":"point","filled":true,"size":18,"color":"black","opacity":1},
      "encoding":{"x":{"field":"t","type":"quantitative","axis":{"orient":"top","values":[0,0.5,1,1.5,2,2.5,3,3.5,4,4.5,20],"labels":false,"tickSize":{"condition":{"test":"datum.value%2==0","value":-5},"value":-3},"title":null}},
       "y":{"field":"v","type":"quantitative","axis":{"orient":"right","values":[-0.0326,0,0.0326],"labels":false,"title":null}}}},
     {"data":{"name":"ann"},"transform":[{"filter":"datum.p=='A3' && datum.k=='brk'"}],"mark":{"type":"text","align":"center","baseline":"middle","fontSize":10,"font":"Liberation Serif","color":"black"},"encoding":{"text":{"field":"s","type":"nominal"}}}
    ]},
   {"width":134,"height":75,"resolve":{"axis":{"x":"independent","y":"independent"}},
    "encoding":{"x":{"field":"t","type":"quantitative","scale":{"domain":[-0.25,5,22],"range":[0,106,134],"nice":false,"zero":false},"axis":null},
     "y":{"field":"v","type":"quantitative","scale":{"domain":[-0.1363,0.1369],"nice":false,"zero":false},"axis":null}},
    "layer":[
     {"data":{"name":"fit"},"transform":[{"filter":"datum.p=='A4'"}],"mark":{"type":"line","interpolate":"step-after","strokeWidth":2},
      "encoding":{"x":{"field":"t","type":"quantitative","axis":{"values":[0,0.5,1,1.5,2,2.5,3,3.5,4,4.5,20],"labels":false,"tickSize":{"condition":{"test":"datum.value%2==0","value":-5},"value":-3},"title":null}},
       "y":{"field":"v","type":"quantitative","axis":{"orient":"right","values":[-0.1086,0,0.1086],"labelExpr":"datum.value==0 ? '0' : format(datum.value,'.4f')","title":"R₄⁺− R₄⁻","titleFontStyle":"italic","titleFontSize":13,"titleAngle":270,"titleX":34,"titleY":37.5,"titleAlign":"center","titleBaseline":"middle"}},
       "color":{"field":"k","type":"nominal","scale":{"domain":["SL Data","Fit"],"range":["black","#3a4dff"]}}}},
     {"data":{"name":"pts"},"transform":[{"filter":"datum.p=='A4'"}],"mark":{"type":"errorbar","ticks":{"size":3},"color":"black"},"encoding":{"yError":{"field":"e"}}},
     {"data":{"name":"pts"},"transform":[{"filter":"datum.p=='A4'"}],"mark":{"type":"point","filled":true,"size":18,"color":"black","opacity":1},
      "encoding":{"x":{"field":"t","type":"quantitative","axis":{"orient":"top","values":[0,0.5,1,1.5,2,2.5,3,3.5,4,4.5,20],"labels":false,"tickSize":{"condition":{"test":"datum.value%2==0","value":-5},"value":-3},"title":null}},
       "y":{"field":"v","type":"quantitative","axis":{"orient":"left","values":[-0.1086,0,0.1086],"labels":false,"title":null}}}},
     {"data":{"name":"ann"},"transform":[{"filter":"datum.p=='A4' && datum.k=='brk'"}],"mark":{"type":"text","align":"center","baseline":"middle","fontSize":10,"font":"Liberation Serif","color":"black"},"encoding":{"text":{"field":"s","type":"nominal"}}}
    ]},
   {"width":134,"height":75,"resolve":{"axis":{"x":"independent","y":"independent"}},
    "encoding":{"x":{"field":"t","type":"quantitative","scale":{"domain":[-0.25,5,22],"range":[0,106,134],"nice":false,"zero":false},"axis":null},
     "y":{"field":"v","type":"quantitative","scale":{"domain":[-0.0396,0.0392],"nice":false,"zero":false},"axis":null}},
    "layer":[
     {"data":{"name":"fit"},"transform":[{"filter":"datum.p=='A1'"}],"mark":{"type":"line","interpolate":"step-after","strokeWidth":2},
      "encoding":{"x":{"field":"t","type":"quantitative","axis":{"values":[0,0.5,1,1.5,2,2.5,3,3.5,4,4.5,20],"labelExpr":"datum.value%2==0 ? datum.label : ''","labelPadding":8,"tickSize":{"condition":{"test":"datum.value%2==0","value":-5},"value":-3},"title":null}},
       "y":{"field":"v","type":"quantitative","axis":{"orient":"left","values":[-0.031,0,0.031],"labelExpr":"datum.value==0 ? '0' : format(datum.value,'.4f')","title":"R₁⁺− R₁⁻","titleFontStyle":"italic","titleFontSize":13,"titleAngle":270,"titleX":-41,"titleY":37.5,"titleAlign":"center","titleBaseline":"middle"}},
       "color":{"field":"k","type":"nominal","scale":{"domain":["SL Data","Fit"],"range":["black","#3a4dff"]}}}},
     {"data":{"name":"pts"},"transform":[{"filter":"datum.p=='A1'"}],"mark":{"type":"errorbar","ticks":{"size":3},"color":"black"},"encoding":{"yError":{"field":"e"}}},
     {"data":{"name":"pts"},"transform":[{"filter":"datum.p=='A1'"}],"mark":{"type":"point","filled":true,"size":18,"color":"black","opacity":1},
      "encoding":{"x":{"field":"t","type":"quantitative","axis":{"orient":"top","values":[0,0.5,1,1.5,2,2.5,3,3.5,4,4.5,20],"labels":false,"tickSize":{"condition":{"test":"datum.value%2==0","value":-5},"value":-3},"title":null}},
       "y":{"field":"v","type":"quantitative","axis":{"orient":"right","values":[-0.031,0,0.031],"labels":false,"title":null}}}},
     {"data":{"name":"ann"},"transform":[{"filter":"datum.p=='A1' && datum.k=='brk'"}],"mark":{"type":"text","align":"center","baseline":"middle","fontSize":10,"font":"Liberation Serif","color":"black"},"encoding":{"text":{"field":"s","type":"nominal"}}}
    ]},
   {"width":134,"height":75,"resolve":{"axis":{"x":"independent","y":"independent"}},
    "encoding":{"x":{"field":"t","type":"quantitative","scale":{"domain":[-0.25,5,22],"range":[0,106,134],"nice":false,"zero":false},"axis":null},
     "y":{"field":"v","type":"quantitative","scale":{"domain":[-0.0299,0.0286],"nice":false,"zero":false},"axis":null}},
    "layer":[
     {"data":{"name":"fit"},"transform":[{"filter":"datum.p=='A2'"}],"mark":{"type":"line","interpolate":"step-after","strokeWidth":2},
      "encoding":{"x":{"field":"t","type":"quantitative","axis":{"values":[0,0.5,1,1.5,2,2.5,3,3.5,4,4.5,20],"labelExpr":"datum.value%2==0 ? datum.label : ''","labelPadding":8,"tickSize":{"condition":{"test":"datum.value%2==0","value":-5},"value":-3},"title":"t/ τD⁰","titleFontStyle":"italic","titleFontSize":14,"titleAlign":"right","titleAnchor":"end","titleX":128,"titleY":23,"titleBaseline":"alphabetic"}},
       "y":{"field":"v","type":"quantitative","axis":{"orient":"right","values":[-0.0234,0,0.0234],"labelExpr":"datum.value==0 ? '0' : format(datum.value,'.4f')","title":"R₂⁺− R₂⁻","titleFontStyle":"italic","titleFontSize":13,"titleAngle":270,"titleX":34,"titleY":37.5,"titleAlign":"center","titleBaseline":"middle"}},
       "color":{"field":"k","type":"nominal","scale":{"domain":["SL Data","Fit"],"range":["black","#3a4dff"]}}}},
     {"data":{"name":"pts"},"transform":[{"filter":"datum.p=='A2'"}],"mark":{"type":"errorbar","ticks":{"size":3},"color":"black"},"encoding":{"yError":{"field":"e"}}},
     {"data":{"name":"pts"},"transform":[{"filter":"datum.p=='A2'"}],"mark":{"type":"point","filled":true,"size":18,"color":"black","opacity":1},
      "encoding":{"x":{"field":"t","type":"quantitative","axis":{"orient":"top","values":[0,0.5,1,1.5,2,2.5,3,3.5,4,4.5,20],"labels":false,"tickSize":{"condition":{"test":"datum.value%2==0","value":-5},"value":-3},"title":null}},
       "y":{"field":"v","type":"quantitative","axis":{"orient":"left","values":[-0.0234,0,0.0234],"labels":false,"title":null}}}},
     {"data":{"name":"ann"},"transform":[{"filter":"datum.p=='A2' && datum.k=='brk'"}],"mark":{"type":"text","align":"center","baseline":"middle","fontSize":10,"font":"Liberation Serif","color":"black"},"encoding":{"text":{"field":"s","type":"nominal"}}}
    ]}
 ],"columns":2,"spacing":0,"bounds":"flush"}
],"spacing":2,"resolve":{"scale":{"color":"independent"}}},
{"hconcat":[
 {"hconcat":[
  {"width":1,"height":196,"data":{"values":[]},"mark":"point","view":{"stroke":null}},
  {"width":267,"height":196,
   "data":{"name":"cxy"},
   "encoding":{
    "x":{"field":"x","type":"quantitative","scale":{"domain":[-0.00152,0.01246],"nice":false,"zero":false},"axis":null},
    "y":{"field":"y","type":"quantitative","scale":{"domain":[-0.0049,0.03725],"nice":false,"zero":false},"axis":null},
    "order":{"value":null}
   },
   "layer":[
    {"transform":[{"filter":"datum.c=='S95'"}],"mark":{"type":"line","interpolate":"cardinal-closed","strokeWidth":1.2},
     "encoding":{
      "x":{"field":"x","type":"quantitative","axis":{"values":[0,0.0025,0.005,0.0075,0.01],"labelExpr":"(datum.value==0||datum.value==0.005||datum.value==0.01) ? datum.label : ''","format":"~g","labelFontSize":14,"labelColor":"black","labelPadding":10,"tickSize":{"condition":{"test":"datum.value==0||datum.value==0.005||datum.value==0.01","value":-9},"value":-5},"title":"x","titleFontStyle":"italic","titleFontSize":18,"titleX":259,"titleY":31,"titleBaseline":"alphabetic"}},
      "y":{"field":"y","type":"quantitative","axis":{"values":[0,0.005,0.01,0.015,0.02,0.025,0.03,0.035],"labelExpr":"(datum.value==0||datum.value==0.01||datum.value==0.02||datum.value==0.03) ? datum.label : ''","format":"~g","labelFontSize":14,"labelColor":"black","labelPadding":13,"tickSize":{"condition":{"test":"datum.value==0||datum.value==0.01||datum.value==0.02||datum.value==0.03","value":-9},"value":-5},"title":"y","titleFontStyle":"italic","titleFontSize":18,"titleAngle":0,"titleX":-38,"titleY":6,"titleBaseline":"middle"}},
      "stroke":{"field":"c","type":"nominal","scale":{"domain":["P68","S68","C68","S95"],"range":["#30a8e0","#d89030","#e020e0","#a0400a"]},
      "legend":{"values":["P68","S68","C68"],"orient":"none","legendX":15,"legendY":11,"title":null,"labelExpr":"datum.value=='P68' ? 'LHCb Prompt  D⁰ → K⁰ₛπ⁺π⁺ bin-flip' : datum.value=='S68' ? 'LHCb SL  D⁰ → K⁰ₛπ⁺π⁺ bin-flip' : 'LHCb  D⁰ → K⁰ₛπ⁺π⁺ bin-flip'","labelFontSize":10,"symbolSize":144,"labelOffset":10,"rowPadding":0,"symbolType":"M-2,-0.8H2V0.8H-2Z","symbolStrokeWidth":1.5}},
      "fill":{"field":"c","type":"nominal","scale":{"domain":["P68","S68","C68","S95"],"range":["#bfe4f7","#c99a5a","#e04ee0","#fdd8b0"]},
      "legend":{"values":["P68","S68","C68"],"orient":"none","legendX":15,"legendY":11,"title":null,"labelExpr":"datum.value=='P68' ? 'LHCb Prompt  D⁰ → K⁰ₛπ⁺π⁺ bin-flip' : datum.value=='S68' ? 'LHCb SL  D⁰ → K⁰ₛπ⁺π⁺ bin-flip' : 'LHCb  D⁰ → K⁰ₛπ⁺π⁺ bin-flip'","labelFontSize":10,"symbolSize":144,"labelOffset":10,"rowPadding":0,"symbolType":"M-2,-0.8H2V0.8H-2Z","symbolStrokeWidth":1.5}}}},
    {"transform":[{"filter":"datum.c=='S68'"}],"mark":{"type":"line","interpolate":"cardinal-closed","stroke":"#c99a5a","strokeWidth":0.5,"fill":"#c99a5a"},
     "encoding":{
      "x":{"field":"x","type":"quantitative","axis":{"orient":"top","values":[0,0.0025,0.005,0.0075,0.01],"labels":false,"tickSize":{"condition":{"test":"datum.value==0||datum.value==0.005||datum.value==0.01","value":-9},"value":-5},"title":null}},
      "y":{"field":"y","type":"quantitative","axis":{"orient":"right","values":[0,0.005,0.01,0.015,0.02,0.025,0.03,0.035],"labels":false,"tickSize":{"condition":{"test":"datum.value==0||datum.value==0.01||datum.value==0.02||datum.value==0.03","value":-9},"value":-5},"title":null}}}},
    {"transform":[{"filter":"datum.c=='P95'"}],"mark":{"type":"line","interpolate":"cardinal-closed","stroke":"#5a5ae6","strokeWidth":1.2,"fill":"#cfe0fa"}},
    {"transform":[{"filter":"datum.c=='C95'"}],"mark":{"type":"line","interpolate":"cardinal-closed","stroke":"#e030e0","strokeWidth":1.2,"fill":"#f5a3f3"}},
    {"transform":[{"filter":"datum.c=='C68'"}],"mark":{"type":"line","interpolate":"cardinal-closed","stroke":"#d43ad4","strokeWidth":0.5,"fill":"#d43ad4"}},
    {"transform":[{"filter":"datum.c=='P68'"}],"mark":{"type":"line","interpolate":"cardinal-closed","stroke":"#4a8cff","strokeWidth":1,"strokeDash":[2,2]}},
    {"data":{"name":"cann"},"transform":[{"filter":"datum.p=='CL' && datum.k=='big'"}],"mark":{"type":"text","align":"left","baseline":"alphabetic","fontSize":19,"font":"Liberation Serif","color":"black"},"encoding":{"text":{"field":"s","type":"nominal"}}},
    {"data":{"name":"cann"},"transform":[{"filter":"datum.p=='CL' && datum.k=='mid'"}],"mark":{"type":"text","align":"left","baseline":"alphabetic","fontSize":15,"font":"Liberation Serif","color":"black"},"encoding":{"text":{"field":"s","type":"nominal"}}},
    {"data":{"name":"cann"},"transform":[{"filter":"datum.p=='CL' && datum.k=='small'"}],"mark":{"type":"text","align":"left","baseline":"alphabetic","fontSize":9.5,"font":"Liberation Serif","color":"black"},"encoding":{"text":{"field":"s","type":"nominal"}}}
   ],
   "resolve":{"axis":{"x":"independent","y":"independent"}}}
 ],"spacing":-29,"resolve":{"scale":{"fill":"independent","stroke":"independent"}}},
 {"width":263,"height":196,
  "data":{"name":"cqp"},
  "encoding":{
   "x":{"field":"x","type":"quantitative","scale":{"domain":[-0.3,1.5],"nice":false,"zero":false},"axis":null},
   "y":{"field":"y","type":"quantitative","scale":{"domain":[-0.901,0.808],"nice":false,"zero":false},"axis":null},
   "order":{"value":null}
  },
  "layer":[
   {"transform":[{"filter":"datum.c=='S95'"}],"mark":{"type":"line","interpolate":"cardinal-closed","strokeWidth":1.2},
    "encoding":{
     "x":{"field":"x","type":"quantitative","axis":{"values":[-0.25,0,0.25,0.5,0.75,1,1.25,1.5],"labelExpr":"(datum.value==0||datum.value==0.5||datum.value==1||datum.value==1.5) ? datum.label : ''","format":"~g","labelFontSize":14,"labelColor":"black","labelPadding":10,"tickSize":{"condition":{"test":"datum.value==0||datum.value==0.5||datum.value==1||datum.value==1.5","value":-9},"value":-5},"title":"|q/p|  − 1","titleFontStyle":"italic","titleFontSize":18,"titleX":264,"titleY":31,"titleAlign":"right","titleBaseline":"alphabetic"}},
     "y":{"field":"y","type":"quantitative","axis":{"values":[-0.75,-0.5,-0.25,0,0.25,0.5,0.75],"labelExpr":"(datum.value==0||datum.value==0.5||datum.value==-0.5) ? datum.label : ''","format":"~g","labelFontSize":14,"labelColor":"black","labelPadding":13,"tickSize":{"condition":{"test":"datum.value==0||datum.value==0.5||datum.value==-0.5","value":-9},"value":-5},"title":"φ","titleFontStyle":"italic","titleFontSize":18,"titleAngle":0,"titleX":-46,"titleY":4,"titleBaseline":"middle"}},
     "stroke":{"field":"c","type":"nominal","scale":{"domain":["P68","S68","C68","S95"],"range":["#30a8e0","#d89030","#e020e0","#a0400a"]},
     "legend":{"values":["P68","S68","C68"],"orient":"none","legendX":14,"legendY":11,"title":null,"labelExpr":"datum.value=='P68' ? 'LHCb Prompt  D⁰ → K⁰ₛπ⁺π⁺ bin-flip' : datum.value=='S68' ? 'LHCb SL  D⁰ → K⁰ₛπ⁺π⁺ bin-flip' : 'LHCb  D⁰ → K⁰ₛπ⁺π⁺ bin-flip'","labelFontSize":10,"symbolSize":144,"labelOffset":10,"rowPadding":0,"symbolType":"M-2,-0.8H2V0.8H-2Z","symbolStrokeWidth":1.5}},
     "fill":{"field":"c","type":"nominal","scale":{"domain":["P68","S68","C68","S95"],"range":["#bfe4f7","#c99a5a","#e04ee0","#fdd8b0"]},
     "legend":{"values":["P68","S68","C68"],"orient":"none","legendX":14,"legendY":11,"title":null,"labelExpr":"datum.value=='P68' ? 'LHCb Prompt  D⁰ → K⁰ₛπ⁺π⁺ bin-flip' : datum.value=='S68' ? 'LHCb SL  D⁰ → K⁰ₛπ⁺π⁺ bin-flip' : 'LHCb  D⁰ → K⁰ₛπ⁺π⁺ bin-flip'","labelFontSize":10,"symbolSize":144,"labelOffset":10,"rowPadding":0,"symbolType":"M-2,-0.8H2V0.8H-2Z","symbolStrokeWidth":1.5}}}},
   {"transform":[{"filter":"datum.c=='S68'"}],"mark":{"type":"line","interpolate":"cardinal-closed","stroke":"#c99a5a","strokeWidth":0.5,"fill":"#c99a5a"},
    "encoding":{
     "x":{"field":"x","type":"quantitative","axis":{"orient":"top","values":[-0.25,0,0.25,0.5,0.75,1,1.25,1.5],"labels":false,"tickSize":{"condition":{"test":"datum.value==0||datum.value==0.5||datum.value==1||datum.value==1.5","value":-9},"value":-5},"title":null}},
     "y":{"field":"y","type":"quantitative","axis":{"orient":"right","values":[-0.75,-0.5,-0.25,0,0.25,0.5,0.75],"labels":false,"tickSize":{"condition":{"test":"datum.value==0||datum.value==0.5||datum.value==-0.5","value":-9},"value":-5},"title":null}}}},
   {"transform":[{"filter":"datum.c=='P95'"}],"mark":{"type":"line","interpolate":"cardinal-closed","stroke":"#5a5ae6","strokeWidth":1.2,"fill":"#cfe0fa"}},
   {"transform":[{"filter":"datum.c=='C95'"}],"mark":{"type":"line","interpolate":"cardinal-closed","stroke":"#e030e0","strokeWidth":1.2,"fill":"#f5a3f3"}},
   {"transform":[{"filter":"datum.c=='C68'"}],"mark":{"type":"line","interpolate":"cardinal-closed","stroke":"#d43ad4","strokeWidth":0.5,"fill":"#d43ad4"}},
   {"transform":[{"filter":"datum.c=='P68'"}],"mark":{"type":"line","interpolate":"cardinal-closed","stroke":"#4a8cff","strokeWidth":1,"strokeDash":[2,2]}},
   {"data":{"name":"cann"},"transform":[{"filter":"datum.p=='CR' && datum.k=='big'"}],"mark":{"type":"text","align":"left","baseline":"alphabetic","fontSize":19,"font":"Liberation Serif","color":"black"},"encoding":{"text":{"field":"s","type":"nominal"}}},
   {"data":{"name":"cann"},"transform":[{"filter":"datum.p=='CR' && datum.k=='mid'"}],"mark":{"type":"text","align":"left","baseline":"alphabetic","fontSize":15,"font":"Liberation Serif","color":"black"},"encoding":{"text":{"field":"s","type":"nominal"}}},
   {"data":{"name":"cann"},"transform":[{"filter":"datum.p=='CR' && datum.k=='small'"}],"mark":{"type":"text","align":"left","baseline":"alphabetic","fontSize":9.5,"font":"Liberation Serif","color":"black"},"encoding":{"text":{"field":"s","type":"nominal"}}}
  ],
  "resolve":{"axis":{"x":"independent","y":"independent"}}}
],"spacing":27,"resolve":{"scale":{"fill":"independent","stroke":"independent"}}}
],
"spacing":9,
"resolve":{"scale":{"color":"independent","fill":"independent","stroke":"independent"}}
}
